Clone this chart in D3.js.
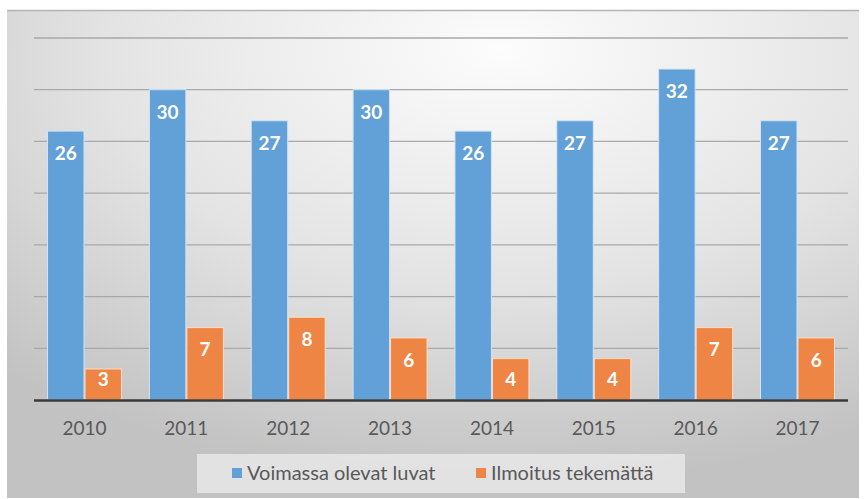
<!DOCTYPE html>
<html>
<head>
<meta charset="utf-8">
<script src="https://cdn.jsdelivr.net/npm/d3@7"></script>
<style>
  html, body { margin: 0; padding: 0; background: #ffffff; }
  svg text { font-family: Lato, 'Open Sans', sans-serif; }
</style>
</head>
<body>
<div id="chart"></div>
<script>
"use strict";
// data
const years = ['2010', '2011', '2012', '2013', '2014', '2015', '2016', '2017'];
const seriesNames = ['Voimassa olevat luvat', 'Ilmoitus tekemättä'];
const voimassa = [26, 30, 27, 30, 26, 27, 32, 27];
const ilmoitus = [3, 7, 8, 6, 4, 4, 7, 6];
const gridTicks = [5, 10, 15, 20, 25, 30, 35];

const width = 864, height = 499;
const colors = ['#62a0d8', '#ee8544'];
const plot = { left: 34, right: 848, top: 38, bottom: 400 };

let svg = d3.select('#chart')
    .append('svg')
    .attr('width', width)
    .attr('height', height);

// background panel with soft radial gradient
let defs = svg.append('defs');
let grad = defs.append('radialGradient')
    .attr('id', 'bg')
    .attr('cx', '58%').attr('cy', '12%')
    .attr('r', '85%')
    .attr('fx', '58%').attr('fy', '8%');
grad.append('stop').attr('offset', '0%').attr('stop-color', '#fcfcfc');
grad.append('stop').attr('offset', '55%').attr('stop-color', '#e3e3e3');
grad.append('stop').attr('offset', '100%').attr('stop-color', '#c2c2c2');

svg.append('rect')
    .attr('x', 7).attr('y', 10)
    .attr('width', 852).attr('height', 488)
    .attr('fill', 'url(#bg)');
svg.append('line')
    .attr('x1', 7).attr('x2', 859)
    .attr('y1', 10.5).attr('y2', 10.5)
    .attr('stroke', '#b4b4b4').attr('stroke-width', 1.5);

const x = d3.scaleBand()
    .domain(years)
    .range([plot.left, plot.right])
    .paddingInner(0.264)
    .paddingOuter(0.128);
const xs = d3.scaleBand()
    .domain([0, 1])
    .range([0, x.bandwidth()])
    .padding(0);
const y = d3.scaleLinear()
    .domain([0, 35])
    .range([plot.bottom, plot.top]);

// gridlines
svg.append('g')
    .selectAll('line')
    .data(gridTicks)
    .enter()
    .append('line')
    .attr('x1', plot.left).attr('x2', plot.right)
    .attr('y1', d => y(d)).attr('y2', d => y(d))
    .attr('stroke', '#a9a9a9')
    .attr('stroke-width', 1.3);

// bars
const data = years.map((yr, i) => ({ year: yr, values: [voimassa[i], ilmoitus[i]] }));
let groups = svg.append('g')
    .selectAll('g')
    .data(data)
    .enter()
    .append('g')
    .attr('transform', d => 'translate(' + x(d.year) + ',0)');

groups.selectAll('rect')
    .data(d => d.values.map((v, k) => ({ v: v, k: k })))
    .enter()
    .append('rect')
    .attr('x', d => xs(d.k) + 0.5)
    .attr('y', d => y(d.v))
    .attr('width', xs.bandwidth() - 1)
    .attr('height', d => y(0) - y(d.v))
    .attr('fill', d => colors[d.k])
    .attr('stroke', d => d.k === 0 ? '#d2e5f6' : '#fcdcc6')
    .attr('stroke-width', 1);

// value labels, inside end
groups.selectAll('text')
    .data(d => d.values.map((v, k) => ({ v: v, k: k })))
    .enter()
    .append('text')
    .attr('x', d => xs(d.k) + xs.bandwidth() / 2)
    .attr('y', d => Math.min(y(d.v) + 22, y(0) - 21))
    .attr('dy', '0.36em')
    .attr('text-anchor', 'middle')
    .attr('fill', '#ffffff')
    .style('font-size', '19px')
    .style('font-weight', 'bold')
    .text(d => d.v);

// baseline
svg.append('line')
    .attr('x1', plot.left).attr('x2', plot.right)
    .attr('y1', y(0) + 0.5).attr('y2', y(0) + 0.5)
    .attr('stroke', '#3a3a3a')
    .attr('stroke-width', 2.6);

// x axis labels
svg.append('g')
    .selectAll('text')
    .data(years)
    .enter()
    .append('text')
    .attr('x', d => x(d) + x.bandwidth() / 2)
    .attr('y', 428)
    .attr('dy', '0.35em')
    .attr('text-anchor', 'middle')
    .attr('fill', '#595959')
    .style('font-size', '19px')
    .text(d => d);

// legend
let legend = svg.append('g');
legend.append('rect')
    .attr('x', 197).attr('y', 454)
    .attr('width', 488).attr('height', 39)
    .attr('fill', '#ececec')
    .attr('opacity', 0.75);
const legendX = [232, 476];
seriesNames.forEach(function (name, i) {
    legend.append('rect')
        .attr('x', legendX[i]).attr('y', 468)
        .attr('width', 10).attr('height', 10)
        .attr('fill', colors[i]);
    legend.append('text')
        .attr('x', legendX[i] + 15)
        .attr('y', 473)
        .attr('dy', '0.35em')
        .attr('fill', '#595959')
        .style('font-size', '20px')
        .text(name);
});
</script>
</body>
</html>
